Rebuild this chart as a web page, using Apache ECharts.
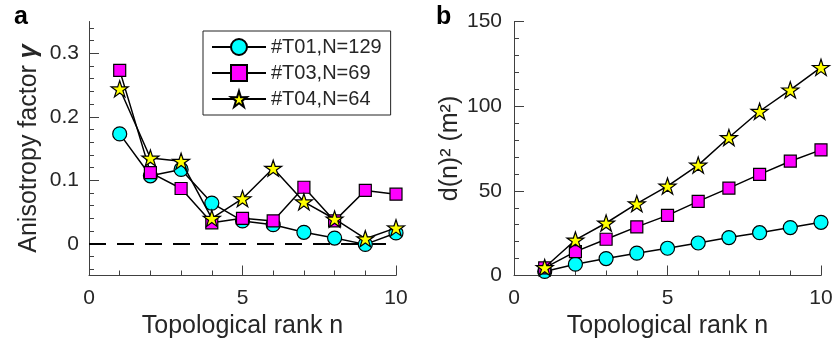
<!DOCTYPE html>
<html>
<head>
<meta charset="utf-8">
<script src="https://cdn.jsdelivr.net/npm/echarts@6/dist/echarts.min.js"></script>
<style>html,body{margin:0;padding:0;background:#fff;}#c{width:837px;height:347px;}</style>
</head>
<body>
<div id="c"></div>
<script>
// ---- data ----
const rankN = [1, 2, 3, 4, 5, 6, 7, 8, 9, 10];
const seriesNames = ['#T01,N=129', '#T03,N=69', '#T04,N=64'];
const gammaT01 = [0.173, 0.107, 0.117, 0.064, 0.036, 0.030, 0.018, 0.009, -0.001, 0.017];
const gammaT03 = [0.273, 0.112, 0.087, 0.033, 0.040, 0.036, 0.089, 0.036, 0.084, 0.078];
const gammaT04 = [0.244, 0.135, 0.130, 0.040, 0.071, 0.119, 0.066, 0.039, 0.008, 0.025];
const d2T01 = [2.4, 6.7, 10.0, 13.2, 16.1, 19.2, 22.4, 25.3, 28.3, 31.4];
const d2T03 = [4.5, 14.1, 21.4, 28.7, 35.5, 43.8, 51.6, 59.7, 67.5, 74.2];
const d2T04 = [4.7, 21.0, 31.0, 42.4, 52.8, 65.2, 81.5, 97.0, 109.6, 122.9];
const gammaLabels = [0, 0.1, 0.2, 0.3];
const gammaMinorTicks = [-0.04, -0.02, 0.02, 0.04, 0.06, 0.08, 0.12, 0.14, 0.16, 0.18, 0.22, 0.24, 0.26, 0.28, 0.32, 0.34];
const zeroLevel = 0;

const FONT = '"Liberation Sans", Arial, Helvetica, sans-serif';
const TXT = '#262626';
const AX = '#404040';
const STAR = 'path://M50 0 L61.17 34.63 L97.55 34.55 L68.07 55.87 L79.39 90.45 L50 69 L20.61 90.45 L31.93 55.87 L2.45 34.55 L38.83 34.63 Z';

const styles = [
  {symbol: 'circle', size: 14, color: '#00FFFF'},
  {symbol: 'rect', size: 12, color: '#FF00FF'},
  {symbol: STAR, size: 17, color: '#FFFF00'}
];

function pairs(vals) { return rankN.map((n, i) => [n, vals[i]]); }

function mkSeries(name, vals, k, gi) {
  const s = styles[k];
  return {
    type: 'line', name: name, xAxisIndex: gi, yAxisIndex: gi === 0 ? 0 : 2,
    data: pairs(vals), symbol: s.symbol, symbolSize: s.size, symbolKeepAspect: true,
    lineStyle: {color: '#000', width: 1.5},
    itemStyle: {color: s.color, borderColor: '#000', borderWidth: 1.2},
    emphasis: {disabled: true}, animation: false, z: 3 + k
  };
}

function xAx(gi) {
  return {
    type: 'value', gridIndex: gi, min: 0, max: 10, interval: 5,
    axisLine: {show: true, onZero: false, lineStyle: {color: AX, width: 1}},
    axisTick: {show: true, inside: true, length: 10, lineStyle: {color: AX}},
    minorTick: {show: true, splitNumber: 5, length: 5, lineStyle: {color: AX}},
    splitLine: {show: false},
    axisLabel: {fontSize: 21, color: TXT, fontFamily: FONT, margin: 12},
    name: 'Topological rank n', nameLocation: 'middle', nameGap: 38,
    nameTextStyle: {fontSize: 25, color: TXT, fontFamily: FONT}
  };
}

const chart = echarts.init(document.getElementById('c'), null, {renderer: 'canvas'});
const option = {
  backgroundColor: '#fff',
  animation: false,
  grid: [
    {left: 89, top: 21.5, width: 307, height: 254},
    {left: 514, top: 21.5, width: 307, height: 254}
  ],
  xAxis: [xAx(0), xAx(1)],
  yAxis: [
    {
      type: 'value', gridIndex: 0, min: -0.05, max: 0.35, position: 'left',
      axisLine: {show: true, onZero: false, lineStyle: {color: AX, width: 1}},
      axisTick: {show: true, inside: true, length: 10, customValues: gammaLabels, lineStyle: {color: AX}},
      axisLabel: {fontSize: 21, color: TXT, fontFamily: FONT, margin: 10, customValues: gammaLabels,
        formatter: v => String(Math.round(v * 10) / 10)},
      splitLine: {show: false},
      name: 'Anisotropy factor {g|γ}', nameLocation: 'middle', nameGap: 47, nameRotate: 90,
      nameTextStyle: {fontSize: 25, color: TXT, fontFamily: FONT,
        rich: {g: {fontSize: 25, fontWeight: 'bold', fontStyle: 'italic', color: TXT, fontFamily: FONT}}}
    },
    {
      type: 'value', gridIndex: 0, min: -0.05, max: 0.35, position: 'left', offset: 0,
      axisLine: {show: false, onZero: false},
      axisTick: {show: true, inside: true, length: 5, customValues: gammaMinorTicks, lineStyle: {color: AX}},
      axisLabel: {show: false},
      splitLine: {show: false}
    },
    {
      type: 'value', gridIndex: 1, min: 0, max: 150, interval: 50,
      axisLine: {show: true, onZero: false, lineStyle: {color: AX, width: 1}},
      axisTick: {show: true, inside: true, length: 10, lineStyle: {color: AX}},
      minorTick: {show: true, splitNumber: 5, length: 5, lineStyle: {color: AX}},
      axisLabel: {fontSize: 21, color: TXT, fontFamily: FONT, margin: 12},
      splitLine: {show: false},
      name: 'd(n)² (m²)', nameLocation: 'middle', nameGap: 46, nameRotate: 90,
      nameTextStyle: {fontSize: 25, color: TXT, fontFamily: FONT}
    }
  ],
  legend: {
    orient: 'vertical', left: 203, top: 31,
    data: seriesNames,
    itemWidth: 54, itemHeight: 20, itemGap: 6,
    padding: [6, 9, 6, 8],
    borderColor: '#222', borderWidth: 1, backgroundColor: '#fff',
    textStyle: {fontSize: 20, color: TXT, fontFamily: FONT, lineHeight: 20, padding: [0, 0, 0, 0]},
    selectedMode: false
  },
  graphic: [
    {type: 'text', left: 14, top: 5, style: {text: 'a', font: 'bold 25px ' + FONT, fill: '#000'}},
    {type: 'text', left: 436, top: 5, style: {text: 'b', font: 'bold 25px ' + FONT, fill: '#000'}}
  ],
  series: [
    Object.assign(mkSeries(seriesNames[0], gammaT01, 0, 0), {
      markLine: {
        silent: true, symbol: 'none', label: {show: false}, z: 2,
        lineStyle: {color: '#000', width: 2, type: [17, 11]},
        emphasis: {disabled: true},
        data: [{yAxis: zeroLevel}], animation: false
      }
    }),
    mkSeries(seriesNames[1], gammaT03, 1, 0),
    mkSeries(seriesNames[2], gammaT04, 2, 0),
    mkSeries(seriesNames[0], d2T01, 0, 1),
    mkSeries(seriesNames[1], d2T03, 1, 1),
    mkSeries(seriesNames[2], d2T04, 2, 1)
  ]
};
chart.setOption(option);
</script>
</body>
</html>
